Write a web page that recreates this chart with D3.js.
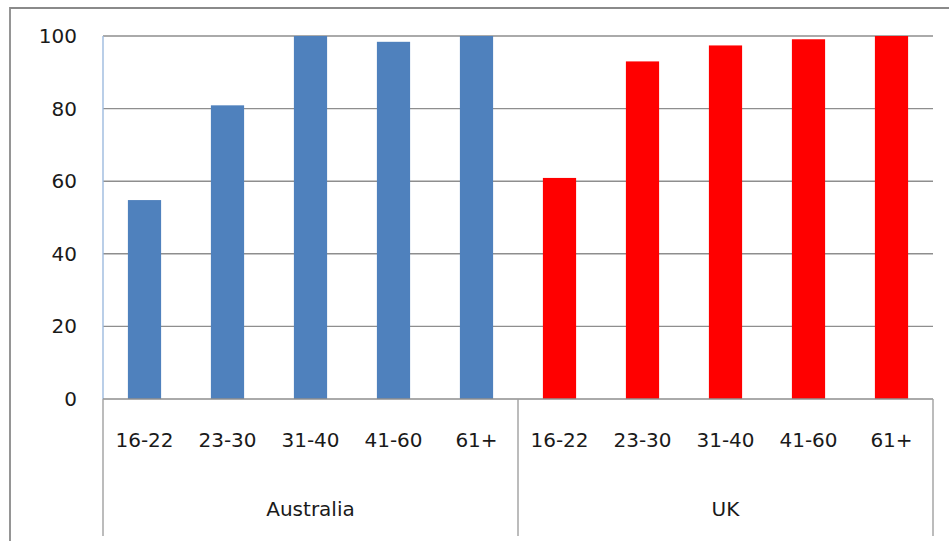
<!DOCTYPE html>
<html>
<head>
<meta charset="utf-8">
<script src="https://cdn.jsdelivr.net/npm/d3@7"></script>
<style>
  html, body { margin: 0; padding: 0; background: #fff; }
  svg { display: block; }
  text { font-family: "DejaVu Sans", sans-serif; fill: #1a1a1a; }
</style>
</head>
<body>
<div id="chart"></div>
<script>
// Share of each age band, by country (percent)
const groups = ["Australia", "UK"];
const ageBands = ["16-22", "23-30", "31-40", "41-60", "61+"];
const australiaValues = [54.8, 80.9, 100, 98.4, 100];
const ukValues = [60.9, 93, 97.4, 99.1, 100];
const yTicks = [0, 20, 40, 60, 80, 100];
const groupColors = ["#4F81BD", "#FF0000"];

const W = 949, H = 541;
const plot = { left: 103, right: 933, top: 36, bottom: 399 };

const rows = [];
[australiaValues, ukValues].forEach((vals, gi) => {
  ageBands.forEach((age, i) => {
    rows.push({ key: groups[gi] + "|" + age, group: groups[gi], gi, age, value: vals[i] });
  });
});

const svg = d3.select("#chart").append("svg")
  .attr("width", W).attr("height", H);

// outer chart frame (top and left edges visible)
svg.append("path")
  .attr("d", `M10,${H} L10,8 L${W},8`)
  .attr("fill", "none")
  .attr("stroke", "#8a8a8a")
  .attr("stroke-width", 1.8);

const x = d3.scaleBand()
  .domain(rows.map(d => d.key))
  .range([plot.left, plot.right])
  .paddingInner(0.6)
  .paddingOuter(0.3);

const y = d3.scaleLinear()
  .domain([0, 100])
  .range([plot.bottom, plot.top]);

// horizontal gridlines
svg.append("g")
  .selectAll("line")
  .data(yTicks.filter(t => t > 0))
  .join("line")
  .attr("x1", plot.left).attr("x2", plot.right)
  .attr("y1", d => y(d)).attr("y2", d => y(d))
  .attr("stroke", "#8e8e8e")
  .attr("stroke-width", 1.4);

// y axis labels
const yAxis = d3.axisLeft(y).tickValues(yTicks).tickSize(0).tickPadding(26);
const gy = svg.append("g")
  .attr("transform", `translate(${plot.left},0)`)
  .call(yAxis);
gy.select(".domain").remove();
gy.selectAll("text")
  .attr("font-size", 20)
  .attr("font-family", "DejaVu Sans, sans-serif")
  .attr("fill", "#1a1a1a");

// bars
svg.append("g")
  .selectAll("rect")
  .data(rows)
  .join("rect")
  .attr("x", d => x(d.key))
  .attr("width", x.bandwidth())
  .attr("y", d => y(d.value))
  .attr("height", d => y(0) - y(d.value))
  .attr("fill", d => groupColors[d.gi]);

// y axis line
svg.append("line")
  .attr("x1", plot.left).attr("x2", plot.left)
  .attr("y1", plot.top).attr("y2", plot.bottom)
  .attr("stroke", "#9dbadf")
  .attr("stroke-width", 1.4);

// category axis baseline
svg.append("line")
  .attr("x1", plot.left).attr("x2", plot.right)
  .attr("y1", plot.bottom).attr("y2", plot.bottom)
  .attr("stroke", "#8e8e8e")
  .attr("stroke-width", 1.4);

// group separators below the axis
const groupScale = d3.scaleBand().domain(groups).range([plot.left, plot.right]);
const sepXs = [plot.left, ...groups.map(g => groupScale(g) + groupScale.bandwidth())];
svg.append("g")
  .selectAll("line")
  .data(sepXs)
  .join("line")
  .attr("x1", d => d).attr("x2", d => d)
  .attr("y1", plot.bottom).attr("y2", 536)
  .attr("stroke", "#a0a0a0")
  .attr("stroke-width", 1.4);

// age band labels
svg.append("g")
  .selectAll("text")
  .data(rows)
  .join("text")
  .attr("x", d => x(d.key) + x.bandwidth() / 2)
  .attr("y", 446.5)
  .attr("text-anchor", "middle")
  .attr("font-size", 20)
  .text(d => d.age);

// country labels
svg.append("g")
  .selectAll("text")
  .data(groups)
  .join("text")
  .attr("x", d => groupScale(d) + groupScale.bandwidth() / 2)
  .attr("y", 515.5)
  .attr("text-anchor", "middle")
  .attr("font-size", 20)
  .text(d => d);
</script>
</body>
</html>
